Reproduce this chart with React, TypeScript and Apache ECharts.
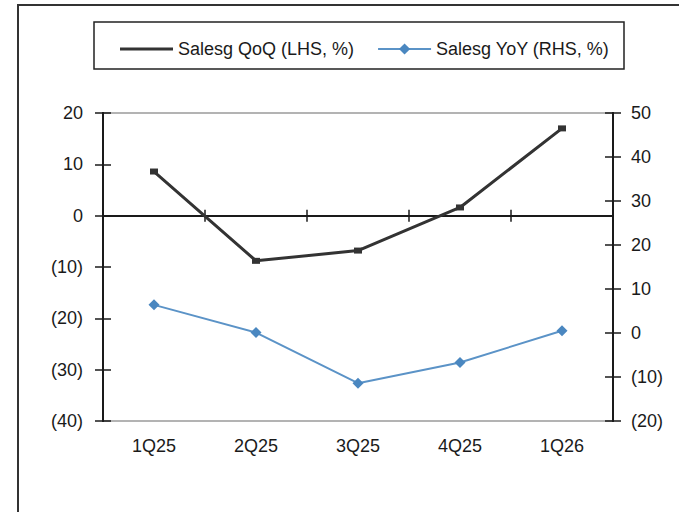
import React, { useEffect, useRef } from "react";
import * as echarts from "echarts";

const categories = ["1Q25", "2Q25", "3Q25", "4Q25", "1Q26"];
const qoqValues = [8.6, -8.8, -6.8, 1.6, 17.0];
const yoyValues = [6.4, 0.1, -11.4, -6.7, 0.5];
const qoqName = "Salesg QoQ (LHS, %)";
const yoyName = "Salesg YoY (RHS, %)";

const FONT = "Liberation Sans, Arial, sans-serif";
const fmt = (v: number) => (v < 0 ? `(${-v})` : `${v}`);

export default function App() {
  const ref = useRef<HTMLDivElement>(null);
  useEffect(() => {
    if (!ref.current) return;
    const chart = echarts.init(ref.current, null, { renderer: "svg" });
    const labelStyle = { color: "#1a1a1a", fontSize: 18, fontFamily: FONT };
    const yBase = (pos: "left" | "right", min: number, max: number) => ({
      type: "value" as const,
      position: pos,
      min,
      max,
      interval: 10,
      splitLine: { show: false },
      axisLine: { show: true, lineStyle: { color: "#1a1a1a", width: 2 } },
    });
    chart.setOption({
      animation: false,
      backgroundColor: "#fff",
      textStyle: { fontFamily: FONT },
      grid: {
        left: 103,
        right: 66,
        top: 113,
        bottom: 91,
        show: true,
        borderColor: "#9a9a9a",
        borderWidth: 1.5,
        containLabel: false,
      },
      legend: {
        left: 115,
        top: 35,
        itemWidth: 53,
        itemHeight: 14,
        itemGap: 23,
        textStyle: { ...labelStyle, fontSize: 18 },
        data: [
          {
            name: qoqName,
            icon: "path://M0,0 L53,0 L53,3 L0,3 Z",
            symbolKeepAspect: true,
          },
          { name: yoyName },
        ],
      },
      xAxis: [
        {
          type: "category",
          data: categories,
          position: "bottom",
          axisLine: { show: true, onZero: true, onZeroAxisIndex: 0, lineStyle: { color: "#1a1a1a", width: 2 } },
          axisTick: { show: true, inside: false, length: 6, lineStyle: { color: "#1a1a1a", width: 1.5 } },
          axisLabel: { show: false },
          splitLine: { show: false },
        },
        {
          type: "category",
          data: categories,
          position: "bottom",
          axisLine: { show: false, onZero: true, onZeroAxisIndex: 0 },
          axisTick: { show: true, inside: true, length: 6, lineStyle: { color: "#1a1a1a", width: 1.5 } },
          axisLabel: { show: false },
          splitLine: { show: false },
        },
        {
          type: "category",
          data: categories,
          position: "bottom",
          axisLine: { show: false, onZero: false },
          axisTick: { show: false },
          axisLabel: { ...labelStyle, margin: 16 },
          splitLine: { show: false },
        },
      ],
      yAxis: [
        {
          ...yBase("left", -40, 20),
          axisTick: { show: true, inside: false, length: 8, lineStyle: { color: "#1a1a1a", width: 1.5 } },
          axisLabel: { ...labelStyle, margin: 20, formatter: fmt },
        },
        {
          ...yBase("right", -20, 50),
          axisTick: { show: true, inside: false, length: 8, lineStyle: { color: "#1a1a1a", width: 1.5 } },
          axisLabel: { ...labelStyle, margin: 18, formatter: fmt },
        },
        {
          ...yBase("left", -40, 20),
          axisTick: { show: true, inside: true, length: 8, lineStyle: { color: "#1a1a1a", width: 1.5 } },
          axisLabel: { show: false },
        },
        {
          ...yBase("right", -20, 50),
          axisTick: { show: true, inside: true, length: 8, lineStyle: { color: "#1a1a1a", width: 1.5 } },
          axisLabel: { show: false },
        },
      ],
      graphic: [
        {
          type: "rect",
          shape: { x: 18, y: 5, width: 720, height: 600 },
          style: { fill: "none", stroke: "#333", lineWidth: 2 },
          silent: true,
        },
        {
          type: "rect",
          shape: { x: 94, y: 22, width: 530, height: 47 },
          style: { fill: "none", stroke: "#222", lineWidth: 1.5 },
          silent: true,
        },
      ],
      series: [
        {
          name: qoqName,
          type: "line",
          xAxisIndex: 2,
          yAxisIndex: 0,
          data: qoqValues,
          symbol: "rect",
          symbolSize: [8, 6],
          lineStyle: { color: "#333333", width: 3 },
          itemStyle: { color: "#333333" },
          z: 3,
        },
        {
          name: yoyName,
          type: "line",
          xAxisIndex: 2,
          yAxisIndex: 1,
          data: yoyValues,
          symbol: "diamond",
          symbolSize: 11,
          lineStyle: { color: "#5b93c7", width: 2 },
          itemStyle: { color: "#4a87c0" },
          z: 3,
        },
      ],
    });
    return () => chart.dispose();
  }, []);
  return (
    <div
      ref={ref}
      style={{ position: "fixed", left: 0, top: 0, width: 679, height: 512, background: "#fff" }}
    />
  );
}
